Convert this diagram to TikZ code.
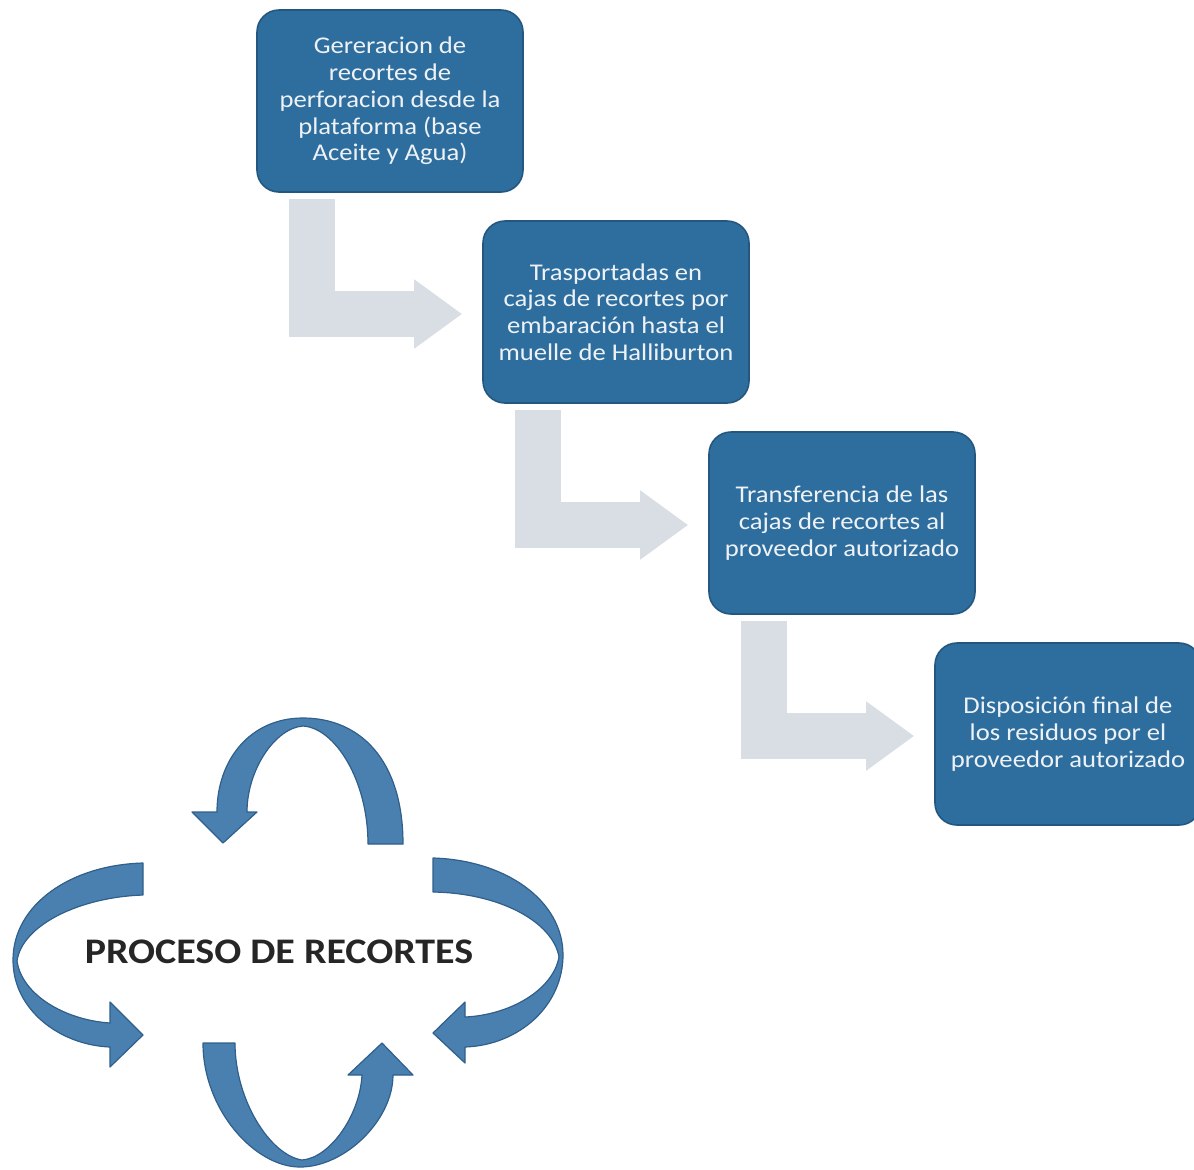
\documentclass[tikz,border=0pt]{standalone}
\usepackage{fontspec}
\setmainfont{Carlito}[FakeStretch=1.11]
\usetikzlibrary{arrows.meta,positioning}

\definecolor{boxblue}{HTML}{2E6E9E}
\definecolor{boxedge}{HTML}{23577F}
\definecolor{boxtext}{HTML}{EEF2F6}
\definecolor{stepgrey}{HTML}{D9DEE5}
\definecolor{loopblue}{HTML}{4A80B0}
\definecolor{loopedge}{HTML}{2F5F8A}

\tikzset{
  stepbox/.style={draw=boxedge,line width=0.8pt,fill=boxblue,rounded corners=11pt,
    minimum width=133pt,minimum height=91pt,inner sep=2pt,align=center,
    text=boxtext,font=\fontsize{12}{13.4}\selectfont},
  bentarrow/.style={draw=stepgrey,line width=23pt,line join=miter,
    -{Triangle[width=33pt,length=24pt]}},
  looparrow/.style={fill=loopblue,draw=loopedge,line width=0.6pt,line join=round}
}

\begin{document}
\begin{tikzpicture}[x=0.5pt,y=-0.5pt]
\useasboundingbox (0,0) rectangle (1194,1169);

\node[stepbox] (b1) at (390,101) {Gereracion de\\recortes de\\perforacion desde la\\plataforma (base\\Aceite y Agua)};
\node[stepbox] (b2) at ([shift={+(226,211)}]b1) {Trasportadas en\\cajas de recortes por\\embaración hasta el\\muelle de Halliburton};
\node[stepbox] (b3) at ([shift={+(226,211)}]b2) {Transferencia de las\\cajas de recortes al\\proveedor autorizado};
\node[stepbox] (b4) at ([shift={+(226,211)}]b3) {Disposición final de\\los residuos por el\\proveedor autorizado};
\draw[bentarrow] ([shift={(56,6)}]b1.south west) |- ([shift={(-20,2)}]b2.west);
\draw[bentarrow] ([shift={(56,6)}]b2.south west) |- ([shift={(-20,2)}]b3.west);
\draw[bentarrow] ([shift={(56,6)}]b3.south west) |- ([shift={(-20,2)}]b4.west);



\node[font=\fontsize{18}{20}\selectfont\bfseries,text=black!85] (proc) at (279,952) {PROCESO DE RECORTES};
\draw[looparrow] (403,844) .. controls (403,760) and (360,718) .. (303,718) .. controls (250,718) and (217,760) .. (217,812) -- (192,812) -- (223,843) -- (257,812) -- (247,812) .. controls (247,770) and (275,728) .. (303,726) .. controls (335,728) and (368,780) .. (368,844) -- cycle;
\draw[looparrow] (143,863) .. controls (70,865) and (13,905) .. (13,960) .. controls (13,1010) and (60,1045) .. (110,1047) -- (110,1067) -- (143,1035) -- (110,1002) -- (110,1023) .. controls (65,1020) and (22,995) .. (17,961) .. controls (22,925) and (80,897) .. (143,895) -- cycle;
\draw[looparrow] (433,858) .. controls (505,860) and (563,900) .. (563,955) .. controls (563,1005) and (520,1045) .. (465,1047) -- (465,1063) -- (433,1033) -- (465,1002) -- (465,1017) .. controls (510,1015) and (553,990) .. (559,957) .. controls (553,922) and (500,893) .. (433,892) -- cycle;
\draw[looparrow] (203,1043) .. controls (203,1110) and (255,1167) .. (300,1167) .. controls (345,1167) and (393,1120) .. (393,1075) -- (413,1075) -- (382,1043) -- (348,1075) -- (362,1075) .. controls (360,1115) and (330,1158) .. (302,1160) .. controls (270,1155) and (235,1100) .. (235,1043) -- cycle;
\end{tikzpicture}
\end{document}
